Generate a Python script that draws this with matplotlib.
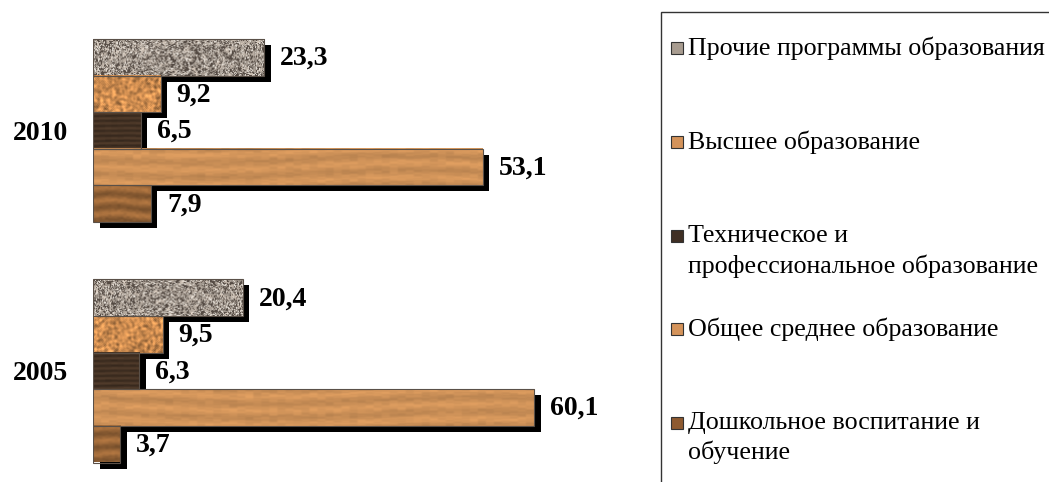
import numpy as np
import matplotlib
matplotlib.use("Agg")
import matplotlib.pyplot as plt
from matplotlib.patches import Rectangle

years = ["2005", "2010"]
categories = [["Прочие программы образования"], ["Высшее образование"],
              ["Техническое и", "профессиональное образование"],
              ["Общее среднее образование"],
              ["Дошкольное воспитание и", "обучение"]]
# values per category: [2005, 2010]
v_other = [20.4, 23.3]
v_higher = [9.5, 9.2]
v_tech = [6.3, 6.5]
v_general = [60.1, 53.1]
v_preschool = [3.7, 7.9]
series = [v_other, v_higher, v_tech, v_general, v_preschool]
labels_fmt = lambda v: f"{v:.1f}".replace(".", ",")

W, H, DPI = 1049, 482, 100
fig = plt.figure(figsize=(W / DPI, H / DPI), dpi=DPI)
fig.patch.set_facecolor("white")

ax_left, ax_right = 93, 93 + 65 * 7.34
ax_top, ax_bot = 30, 472
ax = fig.add_axes([ax_left / W, (H - ax_bot) / H, (ax_right - ax_left) / W, (ax_bot - ax_top) / H])
ax.set_xlim(0, 65)
ylo = -(ax_bot - 371) / 240.5
yhi = 1 + (130.5 - ax_top) / 240.5
ax.set_ylim(ylo, yhi)
for s in ax.spines.values():
    s.set_visible(False)
ax.set_xticks([])
ax.set_yticks([0, 1])
ax.set_yticklabels(years, fontsize=20, fontweight="bold", family="Liberation Serif")
ax.tick_params(axis="y", length=0, pad=18)

px_x = 65 / (ax_right - ax_left)
px_y = (yhi - ylo) / (ax_bot - ax_top)
h = 36.6 * px_y


def hashnoise(hh, ww, seed, sx=1.0, sy=1.0):
    j, i = np.meshgrid(np.arange(ww), np.arange(hh))
    i = np.floor(i / sy)
    j = np.floor(j / sx)
    v = np.sin(i * 12.9898 + j * 78.233 + seed * 37.719) * 43758.5453
    return v - np.floor(v)


def smooth(a, k):
    out = a.copy()
    for _ in range(k):
        out = (out + np.roll(out, 1, 0) + np.roll(out, -1, 0) + np.roll(out, 1, 1) + np.roll(out, -1, 1)) / 5
    return out


def texture(kind, ww, hh, seed):
    ww = max(int(ww), 4)
    hh = max(int(hh), 4)
    j, i = np.meshgrid(np.arange(ww), np.arange(hh))
    if kind == "granite":
        n = hashnoise(hh, ww, seed, 1.0, 1.0)
        n2 = smooth(hashnoise(hh, ww, seed + 3), 2)
        n2 = (n2 - n2.mean()) / (n2.std() + 1e-9)
        base = np.array([165, 155, 145]) / 255
        g = 0.85 + 0.3 * n + 0.12 * n2
        img = base[None, None, :] * g[..., None]
        dark = (n > 0.8) | (n2 < -1.2)
        img[dark] = np.array([85, 75, 68]) / 255
        light = n < 0.15
        img[light] = np.array([228, 222, 214]) / 255
    elif kind == "cork":
        n = smooth(hashnoise(hh, ww, seed), 2)
        n = (n - n.mean()) / (n.std() + 1e-9)
        base = np.array([205, 140, 80]) / 255
        img = base[None, None, :] * (1 + 0.13 * n)[..., None]
    elif kind == "darkwood":
        n = hashnoise(hh, ww, seed, 6, 1)
        g = 1 + 0.18 * np.sin(i * 1.3 + 0.6 * np.sin(j * 0.05)) + 0.1 * (n - 0.5)
        base = np.array([68, 50, 36]) / 255
        img = base[None, None, :] * g[..., None]
    elif kind == "lightwood":
        n = smooth(hashnoise(hh, ww, seed, 8, 1), 1)
        g = 1 + 0.06 * np.sin(i * 0.45 + 1.5 * np.sin(j * 0.015 + seed)) + 0.12 * (n - 0.5)
        base = np.array([205, 145, 88]) / 255
        img = base[None, None, :] * g[..., None]
    else:  # mid wood
        n = smooth(hashnoise(hh, ww, seed, 3, 1), 1)
        g = 1 + 0.15 * np.sin(i * 0.5 + 0.8 * np.sin(j * 0.08)) + 0.15 * (n - 0.5)
        base = np.array([150, 100, 55]) / 255
        img = base[None, None, :] * g[..., None]
    return np.clip(img, 0, 1)


kinds = ["granite", "cork", "darkwood", "lightwood", "midwood"]
offsets = [2, 1, 0, -1, -2]
dx, dy = 6.5 * px_x, 6 * px_y

# shadows first
for k, vals in enumerate(series):
    for yi, v in enumerate(vals):
        yc = yi + offsets[k] * h
        ax.add_patch(Rectangle((dx, yc - h / 2 - dy), v, h, facecolor="black", edgecolor="none", zorder=1))
# bars
for k, vals in enumerate(series):
    for yi, v in enumerate(vals):
        yc = yi + offsets[k] * h
        img = texture(kinds[k], v / px_x, 36.6, seed=k * 7 + yi)
        ax.imshow(img, extent=(0, v, yc - h / 2, yc + h / 2), aspect="auto",
                  interpolation="bilinear", zorder=2)
        ax.add_patch(Rectangle((0, yc - h / 2), v, h, facecolor="none",
                               edgecolor="#5a5048", linewidth=0.8, zorder=3))
        ax.text(v + 16 * px_x, yc - 1 * px_y, labels_fmt(v), ha="left", va="center",
                fontsize=20, fontweight="bold", family="Liberation Serif", zorder=4)
ax.set_xlim(0, 65)
ax.set_ylim(ylo, yhi)

# legend (manual)
fig.patches.append(Rectangle((661 / W, -0.1), 0.5, (H - 12) / H + 0.1, transform=fig.transFigure,
                             facecolor="none", edgecolor="#333333", linewidth=1.0))
leg_y = [[48], [142], [236, 266], [329], [423, 452]]
sq_col = ["#a89c90", "#d4935a", "#3f2f24", "#d4935a", "#8e5a30"]
for k, (lines, ys) in enumerate(zip(categories, leg_y)):
    fig.patches.append(Rectangle((671 / W, (H - ys[0] - 6) / H), 12 / W, 12 / H, transform=fig.transFigure,
                                 facecolor=sq_col[k], edgecolor="#333333", linewidth=0.8))
    for line, yy in zip(lines, ys):
        fig.text(688 / W, (H - yy) / H, line, ha="left", va="center",
                 fontsize=18.7, family="Liberation Serif")

fig.savefig("out.png", dpi=DPI, facecolor="white")
